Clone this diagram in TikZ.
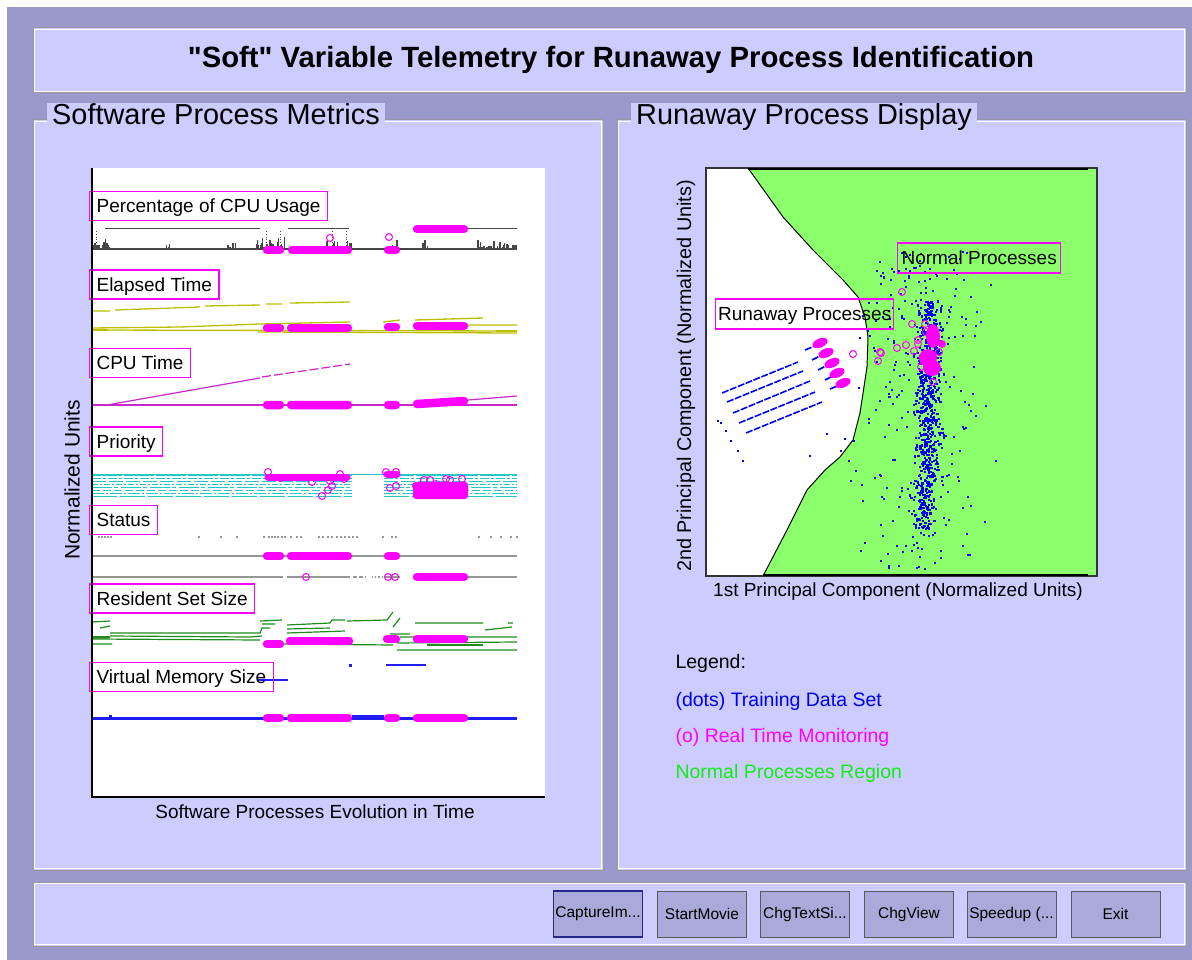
\documentclass[tikz,border=0pt]{standalone}
\usepackage{fontspec}
\setmainfont{Liberation Sans}
% a family without TeX ligature mapping, so that " stays a straight quote
\newfontfamily\headfont{Liberation Sans}
\newcommand{\fsz}[1]{\fontsize{#1}{#1}\selectfont}
\definecolor{frameC}{RGB}{153,153,204}
\definecolor{panelC}{RGB}{204,204,255}
\definecolor{btnC}{RGB}{170,170,218}
\definecolor{focusC}{RGB}{40,40,140}
\definecolor{magC}{RGB}{255,0,255}
\definecolor{greenR}{RGB}{140,255,108}
\definecolor{legG}{RGB}{20,235,20}
\definecolor{dotB}{RGB}{0,0,240}
\definecolor{cpuC}{RGB}{70,70,70}
\definecolor{elapC}{RGB}{190,190,0}
\definecolor{cputC}{RGB}{200,40,200}
\definecolor{prioC}{RGB}{34,200,200}
\definecolor{statC}{RGB}{150,150,150}
\definecolor{rssC}{RGB}{30,140,30}
\definecolor{vmsC}{RGB}{30,30,240}
\begin{document}
\begin{tikzpicture}[x=1pt,y=-1pt,
  etchdark/.style={draw=gray!80, line width=1pt},
  etchlight/.style={draw=white, line width=1pt},
  paneltitle/.style={fill=panelC, inner xsep=5pt, inner ysep=1pt, text height=21pt, text depth=5pt, anchor=west, font=\fsz{28.9}},
  tag/.style={draw=magC, line width=1.2pt, inner xsep=7pt, minimum height=29pt, text height=15.5pt, text depth=2.5pt, anchor=west, font=\fsz{19}},
  axlab/.style={font=\fsz{19}},
  legtext/.style={anchor=west, font=\fsz{19.5}},
  btn/.style={fill=btnC, draw=gray!70!black, line width=0.8pt, minimum width=89pt, minimum height=46pt, inner sep=0pt, font=\fsz{15.5}},
  magbar/.style={draw=magC, line width=8.5pt, line cap=round},
  magring/.style={draw=magC, line width=1pt},
  cpu/.style={draw=cpuC, line width=1.3pt},
  elap/.style={draw=elapC, line width=1.3pt},
  cput/.style={draw=cputC, line width=1.2pt},
  prio/.style={draw=prioC, line width=1pt},
  stat/.style={draw=statC, line width=1.2pt},
  rss/.style={draw=rssC, line width=1.2pt},
  vms/.style={draw=vmsC, line width=1.3pt},
  runline/.style={draw=dotB, line width=1.6pt, dash pattern=on 7pt off 1.5pt}
]
\useasboundingbox (0,0) rectangle (1192,960);
% window background
\fill[white] (0,0) rectangle (1192,960);
\fill[frameC] (7,7) rectangle (1192,960);

% ---------- title bar ----------
\fill[panelC] (33,28) rectangle (1186,93);
\draw[etchdark] (33,28) rectangle (1186,93);
\draw[etchlight] (34.5,29.5) rectangle (1184.5,91.5);
\node[font=\headfont\bfseries\fsz{29.3}] (title) at (611,60) {"Soft" Variable Telemetry for Runaway Process Identification};

% ---------- panels ----------
\fill[panelC] (33,120) rectangle (603,870);
\draw[etchdark] (33,120) rectangle (603,870);
\draw[etchlight] (34.5,121.5) rectangle (601.5,868.5);
\fill[panelC] (617,120) rectangle (1186,870);
\draw[etchdark] (617,120) rectangle (1186,870);
\draw[etchlight] (618.5,121.5) rectangle (1184.5,868.5);
\node[paneltitle] (lefttitle) at (47,117) {Software Process Metrics};
\node[paneltitle] (righttitle) at (631,117) {Runaway Process Display};

% ---------- bottom button bar ----------
\fill[panelC] (33,882) rectangle (1186,946);
\draw[etchdark] (33,882) rectangle (1186,946);
\draw[etchlight] (34.5,883.5) rectangle (1184.5,944.5);
\node[btn, draw=focusC, line width=1.6pt] (bcap) at (598,914) {CaptureIm...};
\node[btn] (bmovie) at (702,914) {StartMovie};
\node[btn] (btext) at (805,914) {ChgTextSi...};
\node[btn] (bview) at (909,914) {ChgView};
\node[btn] (bspeed) at (1011.5,914) {Speedup (...};
\node[btn] (bexit) at (1115.5,914) {Exit};

% =========== left plot: process metrics ===========
\fill[white] (92,168) rectangle (545,797);

% --- Percentage of CPU usage ---
\draw[cpu] (92,249) -- (517,249);
\draw[cpu, line width=1pt] (105,229) -- (260,229) (288,229) -- (349,229) (468,229) -- (517,229);
\draw[cpu, line width=0.8pt, dotted] (266,231) -- (266,249) (280,231) -- (280,249) (332,231) -- (332,249) (346,231) -- (346,249) (96,231) -- (96,246);
\pgfmathsetseed{11}
\foreach \a/\b/\n in {92/112/22,165/172/3,228/236/5,257/285/30,326/352/16,392/400/6,420/428/5,478/517/34}{
  \foreach \k in {1,...,\n}{
    \pgfmathsetmacro\sx{\a+(\b-\a)*rnd}
    \pgfmathsetmacro\sh{2+11*rnd*rnd}
    \draw[cpuC, line width=1.6pt] (\sx,249) -- (\sx,249-\sh);
  }
}
\draw[magbar] (267,250) -- (280,250) (292,250) -- (348,250) (388,250) -- (396,250) (417,229) -- (464,229);
\draw[magring] (330,238) circle[radius=3.5pt] (389,237) circle[radius=3.5pt];

% --- Elapsed time ---
\draw[elap] (92,311) -- (110,311) (115,310) -- (200,307) (205,306) -- (260,305) (266,304) -- (282,304) (290,303) -- (350,302);
\draw[elap] (92,330) -- (517,331);
\draw[elap] (92,328) -- (180,327) -- (260,324) -- (350,322);
\draw[elap] (258,332) -- (517,333);
\draw[elap] (383,322) -- (400,320) (415,320) -- (483,318) (413,325) -- (517,325);
\draw[elap, line width=2.4pt] (92,330) -- (108,330) (320,329) -- (340,329) (496,331) -- (517,331);
\draw[magbar] (267,328) -- (280,328) (291,328) -- (348,328) (388,327) -- (396,327) (417,326) -- (464,326);

% --- CPU time ---
\draw[cput] (92,405) -- (517,405);
\draw[cput] (107,405) -- (260,378);
\draw[cput, dash pattern=on 9pt off 3pt] (262,377) -- (350,364);
\draw[cput] (468,400) -- (517,396);
\draw[magbar] (267,405) -- (280,405) (291,405) -- (348,405) (388,405) -- (396,405) (417,404) -- (464,401);

% --- Priority ---
\foreach \yy/\pat in {475/{on 30pt off 2pt},478/{on 9pt off 2pt on 3pt off 2pt},481/{on 14pt off 3pt},484/{on 6pt off 2pt on 2pt off 2pt},487/{on 20pt off 2pt on 4pt off 3pt},490/{on 8pt off 3pt},493/{on 12pt off 2pt on 2pt off 2pt},496/{on 25pt off 3pt}}{
  \draw[prio, dash pattern/.expanded=\pat] (92,\yy) -- (352,\yy) (384,\yy) -- (517,\yy);
}
\draw[prio] (92,474) -- (517,474);
\draw[magbar, line width=7pt] (268,477) -- (347,477) (387,474) -- (397,474);
\fill[magC, rounded corners=3pt] (413,482) rectangle (468,499);
\foreach \cx/\cy in {268/472,280/478,312/482,322/496,328/490,332/486,340/474,344/479,330/481,386/472,396/472,390/488,396/486,424/480,430/480,446/479,450/480,462/479,436/484,416/486}{
  \draw[magring] (\cx,\cy) circle[radius=3.5pt];
}

% --- Status ---
\foreach \dx in {98,101,104,107,110,198,220,236,263,268,271,274,277,281,284,290,296,300,318,322,327,331,336,340,344,348,352,356,382,391,395,478,490,500,510,516}{
  \fill[statC] (\dx,536) rectangle (\dx+1.6,537.6);
}
\draw[stat] (92,556) -- (517,556);
\draw[stat] (92,577) -- (283,577) (287,577) -- (350,577) (385,577) -- (400,577) (413,577) -- (517,577);
\draw[stat, dash pattern=on 4pt off 2pt] (353,577) -- (366,577);
\draw[stat, dotted] (372,577) -- (382,577);
\draw[magbar] (267,556) -- (280,556) (291,556) -- (348,556) (388,556) -- (396,556) (417,577) -- (464,577);
\draw[magring] (306,577) circle[radius=3.5pt] (388,577) circle[radius=3.5pt] (395,577) circle[radius=3.5pt];

% --- Resident set size ---
\draw[rss] (92,622) -- (110,621) (100,628) -- (110,626) (92,638) -- (110,638) (92,644) -- (112,644);
\draw[rss] (110,633) -- (260,633) -- (262,628) -- (270,628);
\draw[rss] (110,636) -- (250,637) -- (262,636);
\draw[rss] (92,639) -- (260,640);
\draw[rss] (260,621) -- (282,620) (262,624) -- (275,624);
\draw[rss] (287,625) -- (330,623) -- (332,620) -- (345,620);
\draw[rss] (287,629) -- (330,628) (287,633) -- (345,631);
\draw[rss] (347,621) -- (387,620) -- (393,612);
\draw[rss] (393,627) -- (400,618) (390,634) -- (410,634);
\draw[rss] (280,644) -- (393,645);
\draw[rss] (415,623) -- (483,623) (485,630) -- (512,627) (508,623) -- (513,623);
\draw[rss] (400,637) -- (517,637) (397,643) -- (517,642) (397,650) -- (517,650);
\draw[rss, line width=2.6pt] (427,645) -- (483,645) (92,637) -- (110,637);
\draw[magbar] (267,644) -- (280,644) (290,641) -- (349,641) (387,639) -- (396,639) (417,639) -- (464,639);

% --- Virtual memory size ---
\draw[vms, line width=3pt] (92,718) -- (517,718);
\draw[vms] (352,716) -- (384,716) (386,665) -- (426,665) (258,680) -- (288,680);
\fill[vmsC] (349,664) rectangle (351.5,666.5);
\fill[vmsC] (109,715) rectangle (112,718);
\draw[magbar] (267,718) -- (280,718) (291,718) -- (348,718) (388,718) -- (396,718) (417,718) -- (464,718);

% --- metric tags ---
\node[tag] (tcpu) at (89,206) {Percentage of CPU Usage};
\node[tag] (telap) at (89,284.5) {Elapsed Time};
\node[tag] (tcput) at (89,363) {CPU Time};
\node[tag] (tprio) at (89,441.5) {Priority};
\node[tag] (tstat) at (89,520) {Status};
\node[tag] (trss) at (89,598.5) {Resident Set Size};
\node[tag] (tvms) at (89,677) {Virtual Memory Size};

% axes
\draw[black, line width=1.3pt] (92,168) -- (92,797) -- (545,797);
\node[axlab] (xlab) at (315,812) {Software Processes Evolution in Time};
\node[axlab, font=\fsz{21}, rotate=90] (ylab) at (72,480) {Normalized Units};

% =========== right plot: principal components ===========
\fill[white] (706,168) rectangle (1097,576);
\fill[greenR] (748,168) -- (783,217) -- (813,250) -- (843,280) -- (858,297) -- (865,317) -- (868,337) -- (867,367) -- (860,413) -- (853,440) -- (840,457) -- (825,470) -- (807,490) -- (787,530) -- (763,576) -- (1097,576) -- (1097,168) -- cycle;
\draw[black, line width=1pt] (748,168) -- (783,217) -- (813,250) -- (843,280) -- (858,297) -- (865,317) -- (868,337) -- (867,367) -- (860,413) -- (853,440) -- (840,457) -- (825,470) -- (807,490) -- (787,530) -- (763,576);

% training data: runaway trajectories
\draw[runline] (722,393) -- (798,362);
\draw[runline] (727,402) -- (803,371);
\draw[runline] (733,413) -- (810,381);
\draw[runline] (739,423) -- (815,392);
\draw[runline] (746,433) -- (822,402);
\draw[runline] (805,350) -- (817,345) (812,360) -- (822,355) (818,370) -- (828,365) (825,380) -- (835,375) (830,389) -- (840,385);
\foreach \dx/\dy in {717/420,720/422,725/430,730/440,737/450,742/460,809/455,840/450,844/438,853/440,858/387,859/337,826/433}{
  \fill[dotB] (\dx,\dy) rectangle (\dx+2,\dy+2);
}

% training data: normal cluster
\pgfmathsetseed{7}
\foreach \k in {1,...,650}{
  \pgfmathsetmacro\py{300+228*rnd}
  \pgfmathsetmacro\px{928-(\py>480)*6+12*(rnd+rnd+rnd-1.5)}
  \fill[dotB] (\px,\py) rectangle (\px+2.2,\py+2.2);
}
\foreach \k in {1,...,260}{
  \pgfmathsetmacro\py{248+320*rnd}
  \pgfmathsetmacro\px{922+68*(rnd+rnd-1)}
  \pgfmathsetmacro\pxx{max(\px,868-(\py>440)*(\py-440)*0.6)}
  \fill[dotB] (\pxx,\py) rectangle (\pxx+2,\py+2);
}
\foreach \dx/\dy in {862/315,867/330,875/320,880/275,905/268,918/281,924/280,990/284,970/296,975/325,985/405,995/460,975/415,940/550,905/545,860/550,880/560,855/470,850/480,862/500,848/460}{
  \fill[dotB] (\dx,\dy) rectangle (\dx+2,\dy+2);
}

% real-time monitoring
\foreach \cx/\cy/\ang in {820/343/22,826/353/22,832/363/22,837/373/22,843/383/22}{
  \fill[magC] (\cx,\cy) ellipse[x radius=8pt, y radius=4.5pt, rotate=\ang];
}
\fill[magC] (933,336) ellipse[x radius=7pt, y radius=12pt];
\fill[magC] (928,358) ellipse[x radius=9pt, y radius=9pt];
\fill[magC] (932,368) ellipse[x radius=9pt, y radius=8pt];
\fill[magC] (942,344) circle[radius=4pt];
\foreach \cx/\cy in {902/292,912/324,925/324,880/352,897/348,853/354,881/353,878/361,914/351,918/340,933/382,939/352,921/367,918/344,926/332,906/345}{
  \draw[magring] (\cx,\cy) circle[radius=3.5pt];
}

% region tags
\node[tag, minimum height=30pt, inner xsep=4pt] (tnorm) at (897,258) {Normal Processes};
\node[tag, minimum height=30pt, inner xsep=2.5pt] (trun) at (715,314) {Runaway Processes};

% frame of the scatter plot
\draw[gray!40!black, line width=1.2pt] (706,168) rectangle (1097,576);
\draw[black, line width=2.2pt] (748,169) -- (1088,169) (763,575) -- (1088,575);

\node[axlab] (pc1) at (898,592) {1st Principal Component (Normalized Units)};
\node[axlab, font=\fsz{19.8}, rotate=90] (pc2) at (686,376) {2nd Principal Component (Normalized Units)};

% legend
\node[legtext] (leg) at (672,663) {Legend:};
\node[legtext, text=dotB] (leg1) at (672,701) {(dots) Training Data Set};
\node[legtext, text=magC] (leg2) at (672,737) {(o) Real Time Monitoring};
\node[legtext, text=legG] (leg3) at (672,773) {Normal Processes Region};
\end{tikzpicture}
\end{document}
